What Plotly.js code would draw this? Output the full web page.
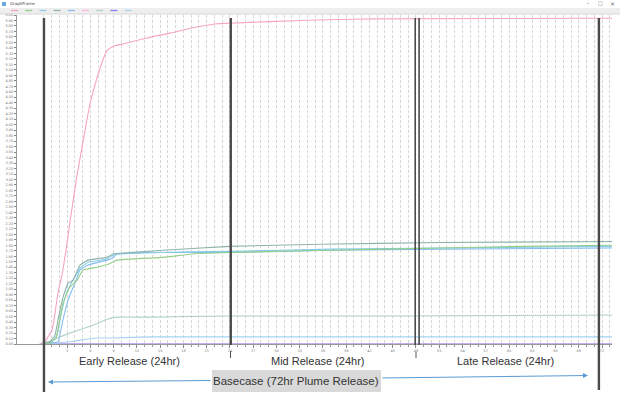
<!DOCTYPE html>
<html><head><meta charset="utf-8">
<script src="https://cdn.plot.ly/plotly-3.0.1.min.js"></script>
<style>html,body{margin:0;padding:0;background:#fff}#c{width:620px;height:395px}</style>
</head><body><div id="c"></div>
<script>
// Time in hours from start of release; value in plotted units
const names = ["S1","S2","S3","S4","S5","S6","S7","S8","S9"];
const colors = ["#f7a3c8","#95cf8a","#86cbe8","#8fb3aa","#85bbee","#ffb8dc","#b0d0c8","#8484f2","#a6d3ef"];

const t1 = [-0.52,0,0.52,1.03,1.42,1.81,2.32,2.84,3.35,4.26,5.29,5.94,6.84,8.13,9.16,10.19,13.29,16.26,19.74,22.32,24.0,29.16,35.23,43.35,73.3];
const v1 = [0,0.02,0.13,0.25,0.56,0.93,1.25,1.71,2.22,3.07,3.89,4.38,4.85,5.35,5.44,5.47,5.58,5.67,5.78,5.84,5.85,5.88,5.91,5.93,5.94];

const t2 = [-0.52,0.77,1.55,2.45,3.35,4.26,5.03,6.84,8.52,9.42,15.35,19.74,24.0,36.9,51.1,61.4,73.3];
const v2 = [0,0.02,0.11,0.75,1.04,1.16,1.35,1.40,1.47,1.53,1.58,1.65,1.67,1.71,1.75,1.78,1.80];

const t3 = [-0.52,1.03,1.68,2.32,2.97,3.61,4.65,5.68,8.13,8.90,9.42,15.35,24.0,36.9,51.1,73.3];
const v3 = [0,0.04,0.16,0.62,0.95,1.13,1.38,1.49,1.55,1.62,1.64,1.67,1.69,1.73,1.75,1.78];

const t4 = [-0.52,0.77,1.42,1.81,2.45,3.10,3.74,4.65,5.68,8.13,8.90,9.42,15.35,24.0,35.6,51.1,73.3];
const v4 = [0,0.04,0.16,0.44,0.85,1.11,1.16,1.44,1.53,1.58,1.64,1.65,1.71,1.78,1.82,1.85,1.87];

const t5 = [-0.52,1.03,1.81,2.45,3.10,4.0,4.65,5.68,8.13,8.77,9.42,13.29,24.0,36.9,51.1,73.3];
const v5 = [0,0.02,0.04,0.44,0.80,1.11,1.35,1.44,1.53,1.56,1.64,1.67,1.67,1.71,1.73,1.75];

const t6 = [-0.52,73.3];
const v6 = [0,0];

const t7 = [-0.52,-0.13,0.77,2.06,3.74,5.68,6.97,8.13,9.42,13.68,24.0,45.9,73.3];
const v7 = [0,0.02,0.05,0.13,0.22,0.31,0.38,0.45,0.49,0.49,0.51,0.51,0.53];

const t8 = [-0.52,73.3];
const v8 = [0,0];

const t9 = [-0.52,1.68,3.35,4.65,6.84,8.90,13.68,73.3];
const v9 = [0,0.02,0.04,0.07,0.11,0.11,0.13,0.13];

const seriesT = [t1,t2,t3,t4,t5,t6,t7,t8,t9];
const seriesV = [v1,v2,v3,v4,v5,v6,v7,v8,v9];
const drawOrder = [5,7,8,6,4,2,1,3,0];
const smooth = [0.6,0.3,0.3,0.3,0.3,0,0.3,0,0.3];

// release boundaries (hours)
const boundaries = [0, 24.1, 47.9, 48.4, 71.6];
const segLabels = ["Early Release (24hr)","Mid Release (24hr)","Late Release (24hr)"];
const segCenters = [11, 35.4, 59.6];
const spanLabel = "Basecase (72hr Plume Release)";

// hourly gridlines from release start, labels every 3 hours
const gridHours = [];
for (let h = 0; h <= 73; h++) gridHours.push(h);
const labelHours = gridHours.filter(h => h % 3 === 0);

// layout helpers (pixel -> paper)
const L=17, R=8, T=15, B=51, W=620, H=395;
const PW=W-L-R, PH=H-T-B;
const fx = p => (p-L)/PW;
const fy = p => (H-B-p)/PH;

const traces = drawOrder.map(i => ({
  x: seriesT[i], y: seriesV[i], type:'scatter', mode:'lines', name:names[i],
  line:{color:colors[i], width:1.1, shape: smooth[i] ? 'spline' : 'linear', smoothing: smooth[i] || 1}, hoverinfo:'skip'
}));

const shapes = [];
// title bar and legend strip
shapes.push({type:'rect', xref:'paper', yref:'paper', x0:fx(0), x1:fx(620), y0:fy(14), y1:fy(8), fillcolor:'#eeeeee', line:{width:0}, layer:'below'});
shapes.push({type:'line', xref:'paper', yref:'paper', x0:fx(0), x1:fx(620), y0:fy(14), y1:fy(14), line:{color:'#d8d8d8', width:1}});
colors.forEach((c,i) => {
  const x0 = 11 + i*14.2;
  shapes.push({type:'line', xref:'paper', yref:'paper', x0:fx(x0), x1:fx(x0+7), y0:fy(10.5), y1:fy(10.5), line:{color:c, width:1.3}});
});
// window icon
shapes.push({type:'rect', xref:'paper', yref:'paper', x0:fx(2), x1:fx(6), y0:fy(6), y1:fy(2), fillcolor:'#6fa8dc', line:{width:0}});

// black release boundary lines
const bottoms = [392, 345, 345, 345, 390];
boundaries.forEach((b,i) => {
  shapes.push({type:'line', xref:'x', yref:'paper', x0:b, x1:b, y0:fy(bottoms[i]), y1:fy(18),
    line:{color:'#4a4a4a', width:(i===2||i===3)?1.6:2.4}});
});
// small separators between segment labels
shapes.push({type:'line', xref:'paper', yref:'paper', x0:fx(230.5), x1:fx(230.5), y0:fy(358), y1:fy(351), line:{color:'#555', width:1}});
shapes.push({type:'line', xref:'paper', yref:'paper', x0:fx(416), x1:fx(416), y0:fy(358), y1:fy(352), line:{color:'#555', width:1}});
// basecase box
shapes.push({type:'rect', xref:'paper', yref:'paper', x0:fx(212), x1:fx(381), y0:fy(392), y1:fy(370), fillcolor:'#d9d9d9', line:{width:0}});

const annotations = [];
segLabels.forEach((s,i) => {
  annotations.push({xref:'x', yref:'paper', x:segCenters[i], y:fy(361), text:s, showarrow:false,
    font:{family:'Liberation Sans, Arial', size:11, color:'#333'}, xanchor:'center', yanchor:'middle'});
});
annotations.push({xref:'paper', yref:'paper', x:fx(296), y:fy(381), text:spanLabel, showarrow:false,
  font:{family:'Liberation Sans, Arial', size:11.5, color:'#333'}, xanchor:'center', yanchor:'middle'});
// arrows
annotations.push({xref:'paper', yref:'paper', x:fx(48), y:fy(382), ax:164, ay:-1.5, text:'', showarrow:true,
  arrowhead:2, arrowsize:1, arrowwidth:1, arrowcolor:'#5b9bd5'});
annotations.push({xref:'paper', yref:'paper', x:fx(588), y:fy(375.5), ax:-207, ay:2.5, text:'', showarrow:true,
  arrowhead:2, arrowsize:1, arrowwidth:1, arrowcolor:'#5b9bd5'});
// window texts
annotations.push({xref:'paper', yref:'paper', x:fx(8), y:fy(4), text:'GraphFrame', showarrow:false,
  font:{family:'DejaVu Sans', size:4, color:'#444'}, xanchor:'left', yanchor:'middle'});
annotations.push({xref:'paper', yref:'paper', x:fx(588), y:fy(3.5), text:'–', showarrow:false,
  font:{family:'DejaVu Sans', size:5, color:'#555'}, xanchor:'center', yanchor:'middle'});
annotations.push({xref:'paper', yref:'paper', x:fx(600), y:fy(3.5), text:'□', showarrow:false,
  font:{family:'DejaVu Sans', size:5, color:'#555'}, xanchor:'center', yanchor:'middle'});
annotations.push({xref:'paper', yref:'paper', x:fx(612), y:fy(3.5), text:'×', showarrow:false,
  font:{family:'DejaVu Sans', size:6, color:'#555'}, xanchor:'center', yanchor:'middle'});

const layout = {
  width:W, height:H, margin:{l:L, r:R, t:T, b:B, pad:0},
  paper_bgcolor:'#ffffff', plot_bgcolor:'#ffffff', showlegend:false,
  xaxis:{range:[-3.48,73.29], tickmode:'array', tickvals:labelHours, showgrid:true, gridcolor:'#d6d6d6', griddash:'3px,2px', gridwidth:1,
    minor:{tickmode:'array', tickvals:gridHours, showgrid:true, gridcolor:'#d6d6d6', griddash:'3px,2px', ticks:'outside', ticklen:1.5, tickcolor:'#999'},
    ticks:'outside', ticklen:2.5, tickcolor:'#888', showline:true, linecolor:'#999', linewidth:1,
    tickfont:{family:'DejaVu Sans', size:3.5, color:'#777'}, zeroline:false},
  yaxis:{range:[0,6], dtick:0.1, tick0:0, showgrid:false, ticks:'outside', ticklen:2, tickcolor:'#888',
    showline:true, linecolor:'#999', linewidth:1, tickformat:'.2f',
    tickfont:{family:'DejaVu Sans', size:3.5, color:'#777'}, zeroline:false},
  shapes:shapes, annotations:annotations
};
Plotly.newPlot('c', traces, layout, {displayModeBar:false, staticPlot:true});
</script></body></html>
